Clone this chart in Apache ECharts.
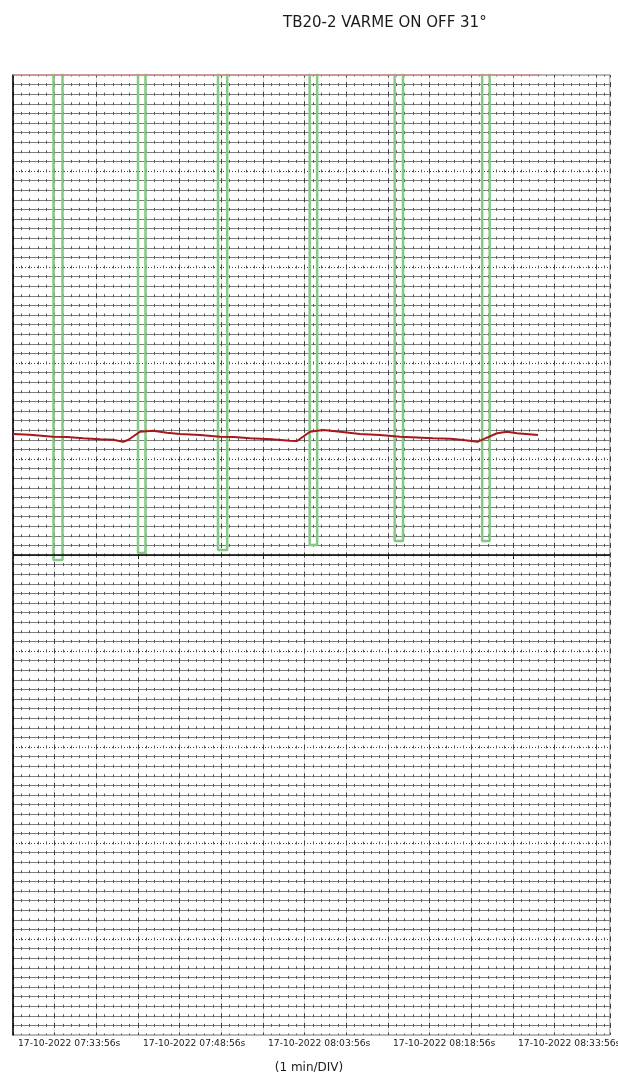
<!DOCTYPE html>
<html>
<head>
<meta charset="utf-8">
<style>
html,body{margin:0;padding:0;background:#fff;}
#chart{width:618px;height:1072px;}
</style>
<script src="https://cdn.jsdelivr.net/npm/echarts@6/dist/echarts.min.js"></script>
</head>
<body>
<div id="chart"></div>
<script>
// ---- data (time in minutes after 17-10-2022 07:33:56, value in divisions from centre line) ----
const titleText = 'TB20-2 VARME ON OFF 31°';
const scaleText = '(1 min/DIV)';
const xTickLabels = ['17-10-2022 07:33:56s', '17-10-2022 07:48:56s', '17-10-2022 08:03:56s', '17-10-2022 08:18:56s', '17-10-2022 08:33:56s'];
const xMax = 71.64;

// red trace
const redTime  = [0, 2.0, 4.8, 6.5, 8.4, 10.44, 12.0, 13.2, 13.8, 15.24, 16.8, 18.48, 20.04, 22.44, 24.84, 26.5, 28.44, 31.0, 33.24, 34.08, 35.64, 37.2, 39.24, 41.64, 44.04, 46.44, 48.5, 50.4, 52.5, 54.0, 55.8, 56.4, 58.08, 59.28, 60.48, 63.0];
const redValue = [12.6, 12.52, 12.32, 12.28, 12.16, 12.05, 12.0, 11.8, 11.98, 12.84, 12.95, 12.74, 12.6, 12.5, 12.32, 12.3, 12.16, 12.05, 11.91, 11.88, 12.84, 13.02, 12.84, 12.6, 12.5, 12.32, 12.25, 12.16, 12.1, 11.98, 11.8, 12.05, 12.68, 12.84, 12.68, 12.5];

// green ON/OFF trace: pulses down to a low level
const greenHigh = 52;
const greenPulseStart = [4.86, 15.0, 24.6, 35.6, 45.8, 56.3];
const greenPulseEnd   = [5.94, 15.9, 25.7, 36.5, 46.8, 57.2];
const greenPulseLow   = [-0.52, 0.21, 0.52, 1.04, 1.46, 1.46];
const greenEndTime = 63.2;

// pink trace at the top of the scale
const pinkTime  = [0, 63.2];
const pinkValue = [50, 50];

// ---- build ----
const redData = redTime.map((t, i) => [t, redValue[i]]);
const greenData = [[0, greenHigh]];
greenPulseStart.forEach((s, i) => {
  greenData.push([s, greenHigh], [s, greenPulseLow[i]], [greenPulseEnd[i], greenPulseLow[i]], [greenPulseEnd[i], greenHigh]);
});
greenData.push([greenEndTime, greenHigh]);
const pinkData = pinkTime.map((t, i) => [t, pinkValue[i]]);

const rowColors = [];
for (let i = 0; i < 10; i++) rowColors.push(i === 0 ? 'rgba(0,0,0,0)' : '#7c7c7c');
const dotColors = [];
for (let i = 0; i <= 10; i++) dotColors.push((i === 0 || i === 5 || i === 10) ? 'rgba(0,0,0,0)' : '#3c3c3c');

const FONT = 'DejaVu Sans';
const hiddenX = (interval, lineStyle) => ({
  type: 'value', min: 0, max: xMax, interval: interval, position: 'bottom',
  axisLine: {show: false}, axisTick: {show: false}, axisLabel: {show: false},
  splitLine: {show: true, lineStyle: lineStyle}
});

const chart = echarts.init(document.getElementById('chart'), null, {renderer: 'canvas'});
chart.setOption({
  animation: false,
  backgroundColor: '#ffffff',
  title: [
    {text: titleText, left: 278, top: 11, textStyle: {fontFamily: FONT, fontSize: 15, fontWeight: 'normal', color: '#1a1a1a'}},
    {text: scaleText, left: 'center', top: 1057, textStyle: {fontFamily: FONT, fontSize: 12, fontWeight: 'normal', color: '#1a1a1a'}}
  ],
  grid: {left: 13, top: 75, width: 597, height: 960, show: true, borderColor: '#707070', borderWidth: 1, containLabel: false, outerBoundsMode: 'none'},
  xAxis: [
    {
      type: 'value', min: 0, max: xMax, interval: 15, position: 'bottom',
      axisLine: {show: true, lineStyle: {color: '#808080'}},
      axisTick: {show: true, length: 4, lineStyle: {color: '#222'}},
      axisLabel: {
        show: true, showMaxLabel: false, align: 'left', margin: 4, padding: [0, 0, 0, 5],
        fontFamily: FONT, fontSize: 9.2, color: '#222',
        formatter: v => (Math.abs(v % 15) < 1e-6 ? (xTickLabels[Math.round(v / 15)] || '') : '')
      },
      splitLine: {show: false}
    },
    hiddenX(5, {color: '#dedede', width: 1}),
    hiddenX(1, {color: '#5a5a5a', width: 1, type: [3, 6.6], dashOffset: 1.5}),
    hiddenX(5, {color: '#404040', width: 1, type: [5, 4.6], dashOffset: 2.5})
  ],
  yAxis: [
    {
      type: 'value', min: -50, max: 50, interval: 1,
      axisLine: {show: true, lineStyle: {color: '#000', width: 1.5}},
      axisTick: {show: false}, axisLabel: {show: false},
      splitLine: {show: true, lineStyle: {color: rowColors, width: 1}}
    },
    {
      type: 'value', min: -50, max: 50, interval: 10, position: 'left',
      axisLine: {show: false}, axisTick: {show: false}, axisLabel: {show: false},
      splitLine: {show: true, lineStyle: {color: dotColors, width: 1, type: [1, 2]}}
    }
  ],
  series: [
    {
      type: 'line', name: 'ON/OFF', data: greenData, xAxisIndex: 0, yAxisIndex: 0,
      showSymbol: false, symbol: 'none', clip: true,
      lineStyle: {color: '#86c986', width: 2.5},
      markLine: {
        silent: true, symbol: 'none', label: {show: false},
        lineStyle: {color: '#000', width: 1.5, type: 'solid'},
        data: [{yAxis: 0}]
      },
      z: 3
    },
    {
      type: 'line', name: 'top', data: pinkData, showSymbol: false, symbol: 'none',
      lineStyle: {color: '#e08080', width: 1.5}, z: 4
    },
    {
      type: 'line', name: 'temp', data: redData, showSymbol: false, symbol: 'none',
      lineStyle: {color: '#a81818', width: 2}, z: 5
    }
  ]
});
</script>
</body>
</html>
